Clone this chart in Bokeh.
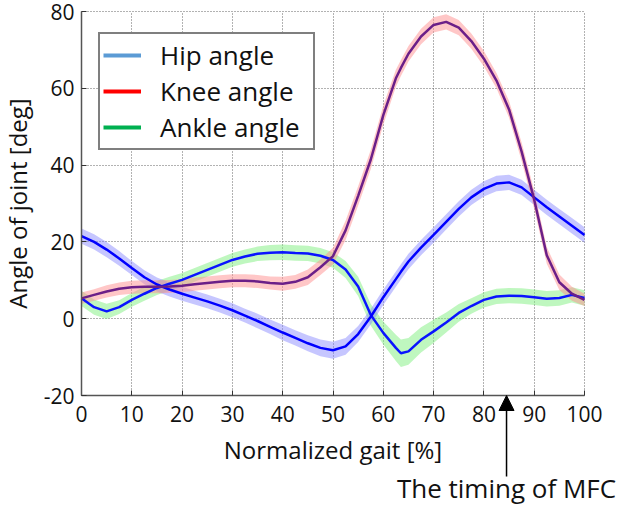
from bokeh.plotting import figure
from bokeh.models import Range1d, FixedTicker, Legend, LegendItem, Arrow, NormalHead, Label
from bokeh.embed import file_html
from bokeh.resources import INLINE

# ---- data ----
gait = [0, 2.5, 5, 7.5, 10, 12.5, 15, 17.5, 20, 22.5, 25, 27.5, 30, 32.5, 35, 37.5,
        40, 42.5, 45, 47.5, 50, 52.5, 55, 57.5, 60, 62.5, 63.5, 65, 67.5, 70, 72.5, 75,
        77.5, 80, 82.5, 85, 87.5, 90, 92.5, 95, 97.5, 100]

hip = [21.5, 20.0, 18.0, 15.7, 13.2, 10.8, 8.9, 7.6, 6.5, 5.5, 4.5, 3.4, 2.2, 0.8,
       -0.6, -2.1, -3.6, -5.0, -6.4, -7.6, -8.2, -7.2, -4.0, 0.5, 5.6, 10.3, 12.2, 14.9,
       18.5, 21.8, 25.2, 28.6, 31.6, 33.8, 35.2, 35.5, 34.2, 31.6, 29.0, 26.6, 24.2, 21.8]
hip_sd = [2.0, 2.0, 2.0, 1.9, 1.8, 1.8, 1.8, 1.8, 1.8, 1.8, 1.8, 1.8, 1.8, 1.8,
          1.9, 1.9, 2.0, 2.0, 2.1, 2.2, 2.2, 2.2, 2.1, 2.0, 2.0, 2.0, 2.0, 2.0, 2.0,
          2.0, 2.0, 2.0, 2.0, 2.0, 2.0, 2.0, 2.0, 2.0, 2.0, 2.0, 2.0, 2.0]

knee = [5.3, 6.2, 7.1, 7.8, 8.2, 8.3, 8.3, 8.4, 8.6, 9.0, 9.3, 9.6, 9.9, 9.9, 9.7,
        9.3, 9.1, 9.6, 10.8, 13.4, 16.3, 23.0, 32.0, 41.4, 53.0, 62.6, 65.3, 69.0, 73.5,
        76.5, 77.3, 75.8, 72.3, 67.7, 62.0, 54.5, 43.5, 31.0, 16.5, 9.5, 6.5, 4.9]
knee_sd = [1.5, 1.5, 1.6, 1.6, 1.7, 1.7, 1.7, 1.7, 1.7, 1.7, 1.7, 1.7, 1.7, 1.7,
           1.7, 1.7, 1.8, 1.8, 2.0, 2.0, 2.2, 2.5, 2.5, 2.5, 2.5, 2.2, 2.1, 2.0, 2.0,
           2.0, 2.0, 2.0, 2.0, 2.0, 2.0, 2.2, 2.4, 2.4, 2.2, 2.0, 1.8, 1.6]

ankle = [5.3, 3.0, 1.9, 3.0, 4.9, 6.5, 8.0, 9.1, 10.1, 11.4, 12.7, 14.0, 15.3, 16.2,
         16.9, 17.2, 17.3, 17.1, 17.0, 16.4, 15.3, 12.8, 8.4, 1.0, -3.7, -7.6, -9.0, -8.5,
         -5.5, -3.3, -1.0, 1.5, 3.3, 4.9, 5.8, 6.0, 5.9, 5.6, 5.2, 5.4, 6.2, 5.4]
ankle_sd = [2.0, 2.0, 2.0, 1.8, 1.8, 1.8, 1.8, 1.8, 1.8, 1.8, 1.8, 1.8, 1.8, 1.8,
            1.9, 2.0, 2.0, 2.0, 2.0, 2.0, 2.0, 2.2, 2.5, 2.8, 3.0, 3.4, 3.6, 3.5, 3.3,
            3.0, 2.6, 2.3, 2.0, 2.0, 2.0, 2.0, 2.0, 2.0, 2.0, 2.0, 2.0, 2.0]

series_names = ["Hip angle", "Knee angle", "Ankle angle"]
x_ticks = [0, 10, 20, 30, 40, 50, 60, 70, 80, 90, 100]
y_ticks = [-20, 0, 20, 40, 60, 80]
y_tick_labels = {-20: "-20", 0: "0", 20: "20", 40: "40", 60: "60", 80: "80"}
x_lim = (0, 100)
y_lim = (-20, 80)
mfc_timing = 84.5
annotation_text = "The timing of MFC"

FONT = "Open Sans"

# ---- layout: the frame covers the whole canvas; axes are placed at fixed locations ----
FIG_W, FIG_H = 624, 506
AX_LEFT, AX_RIGHT = 81, 584      # canvas px of x = 0 and x = 100
AX_TOP, AX_BOTTOM = 11, 395      # canvas px of y = 80 and y = -20
sx = (AX_RIGHT - AX_LEFT) / (x_lim[1] - x_lim[0])
sy = (AX_BOTTOM - AX_TOP) / (y_lim[1] - y_lim[0])
x_range = Range1d(x_lim[0] - AX_LEFT / sx, x_lim[1] + (FIG_W - AX_RIGHT) / sx)
y_range = Range1d(y_lim[0] - (FIG_H - AX_BOTTOM) / sy, y_lim[1] + AX_TOP / sy)

def below_axis(px):
    """data y for a point `px` pixels below the x axis"""
    return y_lim[0] - px / sy

p = figure(width=FIG_W, height=FIG_H, output_backend="svg", toolbar_location=None,
           x_range=x_range, y_range=y_range,
           min_border_left=0, min_border_right=0, min_border_top=0, min_border_bottom=0)
p.background_fill_color = "white"
p.border_fill_color = "white"
p.outline_line_color = None

# bands
def lo(m, s):
    return [a - b for a, b in zip(m, s)]

def hi(m, s):
    return [a + b for a, b in zip(m, s)]

p.varea(x=gait, y1=lo(ankle, ankle_sd), y2=hi(ankle, ankle_sd), fill_color="#7fef7f", fill_alpha=0.5)
p.varea(x=gait, y1=lo(hip, hip_sd), y2=hi(hip, hip_sd), fill_color="#8080ff", fill_alpha=0.45)
p.varea(x=gait, y1=lo(knee, knee_sd), y2=hi(knee, knee_sd), fill_color="#ff8f8f", fill_alpha=0.5)

# mean lines
p.line(gait, ankle, line_color="#0a14ff", line_width=2.5)
p.line(gait, hip, line_color="#0000ff", line_width=2.5)
p.line(gait, knee, line_color="#6b1f88", line_width=2.5)

# legend proxies (no visible data)
nan = float("nan")
r_hip = p.line([nan], [nan], line_color="#5b9bd5", line_width=4)
r_knee = p.line([nan], [nan], line_color="#ff0000", line_width=4)
r_ankle = p.line([nan], [nan], line_color="#00b050", line_width=4)

LEG_H = 118
legend = Legend(items=[LegendItem(label=series_names[0], renderers=[r_hip]),
                       LegendItem(label=series_names[1], renderers=[r_knee]),
                       LegendItem(label=series_names[2], renderers=[r_ankle])],
                location=(AX_LEFT + 17, FIG_H - (AX_TOP + 21 + LEG_H)))
legend.label_text_font = FONT
legend.label_text_font_size = "26px"
legend.label_text_color = "#111111"
legend.glyph_width = 38
legend.glyph_height = 30
legend.label_height = 30
legend.label_width = 150
legend.label_standoff = 19
legend.spacing = 0
legend.padding = 3
legend.border_line_color = "black"
legend.border_line_width = 2
legend.background_fill_color = "white"
legend.background_fill_alpha = 1.0
p.add_layout(legend, "center")

# axes
for ax in (p.xaxis[0], p.yaxis[0]):
    ax.axis_line_color = "#555555"
    ax.axis_line_width = 1.5
    ax.major_tick_in = 5
    ax.major_tick_out = 0
    ax.major_tick_line_color = "#333333"
    ax.minor_tick_line_color = None
    ax.major_label_text_font = FONT
    ax.major_label_text_font_size = "21px"
    ax.major_label_text_color = "#111111"
    ax.axis_label_text_font = FONT
    ax.axis_label_text_font_size = "24px"
    ax.axis_label_text_font_style = "normal"
    ax.axis_label_text_color = "#111111"

p.xaxis.ticker = FixedTicker(ticks=x_ticks)
p.yaxis.ticker = FixedTicker(ticks=y_ticks)
p.yaxis.major_label_overrides = y_tick_labels
p.xaxis.axis_label = "Normalized gait [%]"
p.yaxis.axis_label = "Angle of joint [deg]"
p.xaxis.fixed_location = y_lim[0]
p.yaxis.fixed_location = x_lim[0]
p.xaxis.bounds = x_lim
p.yaxis.bounds = y_lim
p.xaxis.major_label_standoff = 10
p.yaxis.major_label_standoff = 7
p.xaxis.axis_label_standoff = 8
p.yaxis.axis_label_standoff = 7

# grid
for g in (p.xgrid[0], p.ygrid[0]):
    g.grid_line_color = "#555555"
    g.grid_line_dash = "1 2"
    g.grid_line_width = 1
    g.grid_line_alpha = 0.9
p.xgrid.ticker = FixedTicker(ticks=x_ticks)
p.ygrid.ticker = FixedTicker(ticks=y_ticks)
p.xgrid.cross_bounds = y_lim
p.ygrid.cross_bounds = x_lim

# MFC annotation below the axis
p.add_layout(Arrow(x_start=mfc_timing, y_start=below_axis(81), x_end=mfc_timing, y_end=y_lim[0],
                   line_color="black", line_width=1.5,
                   end=NormalHead(size=15, fill_color="black", line_color="black")))
p.add_layout(Label(x=mfc_timing, y=below_axis(92), text=annotation_text, text_align="center",
                   text_baseline="alphabetic", text_font=FONT, text_font_size="26px",
                   text_color="#111111"))

open("out.html", "w").write(file_html(p, INLINE))
